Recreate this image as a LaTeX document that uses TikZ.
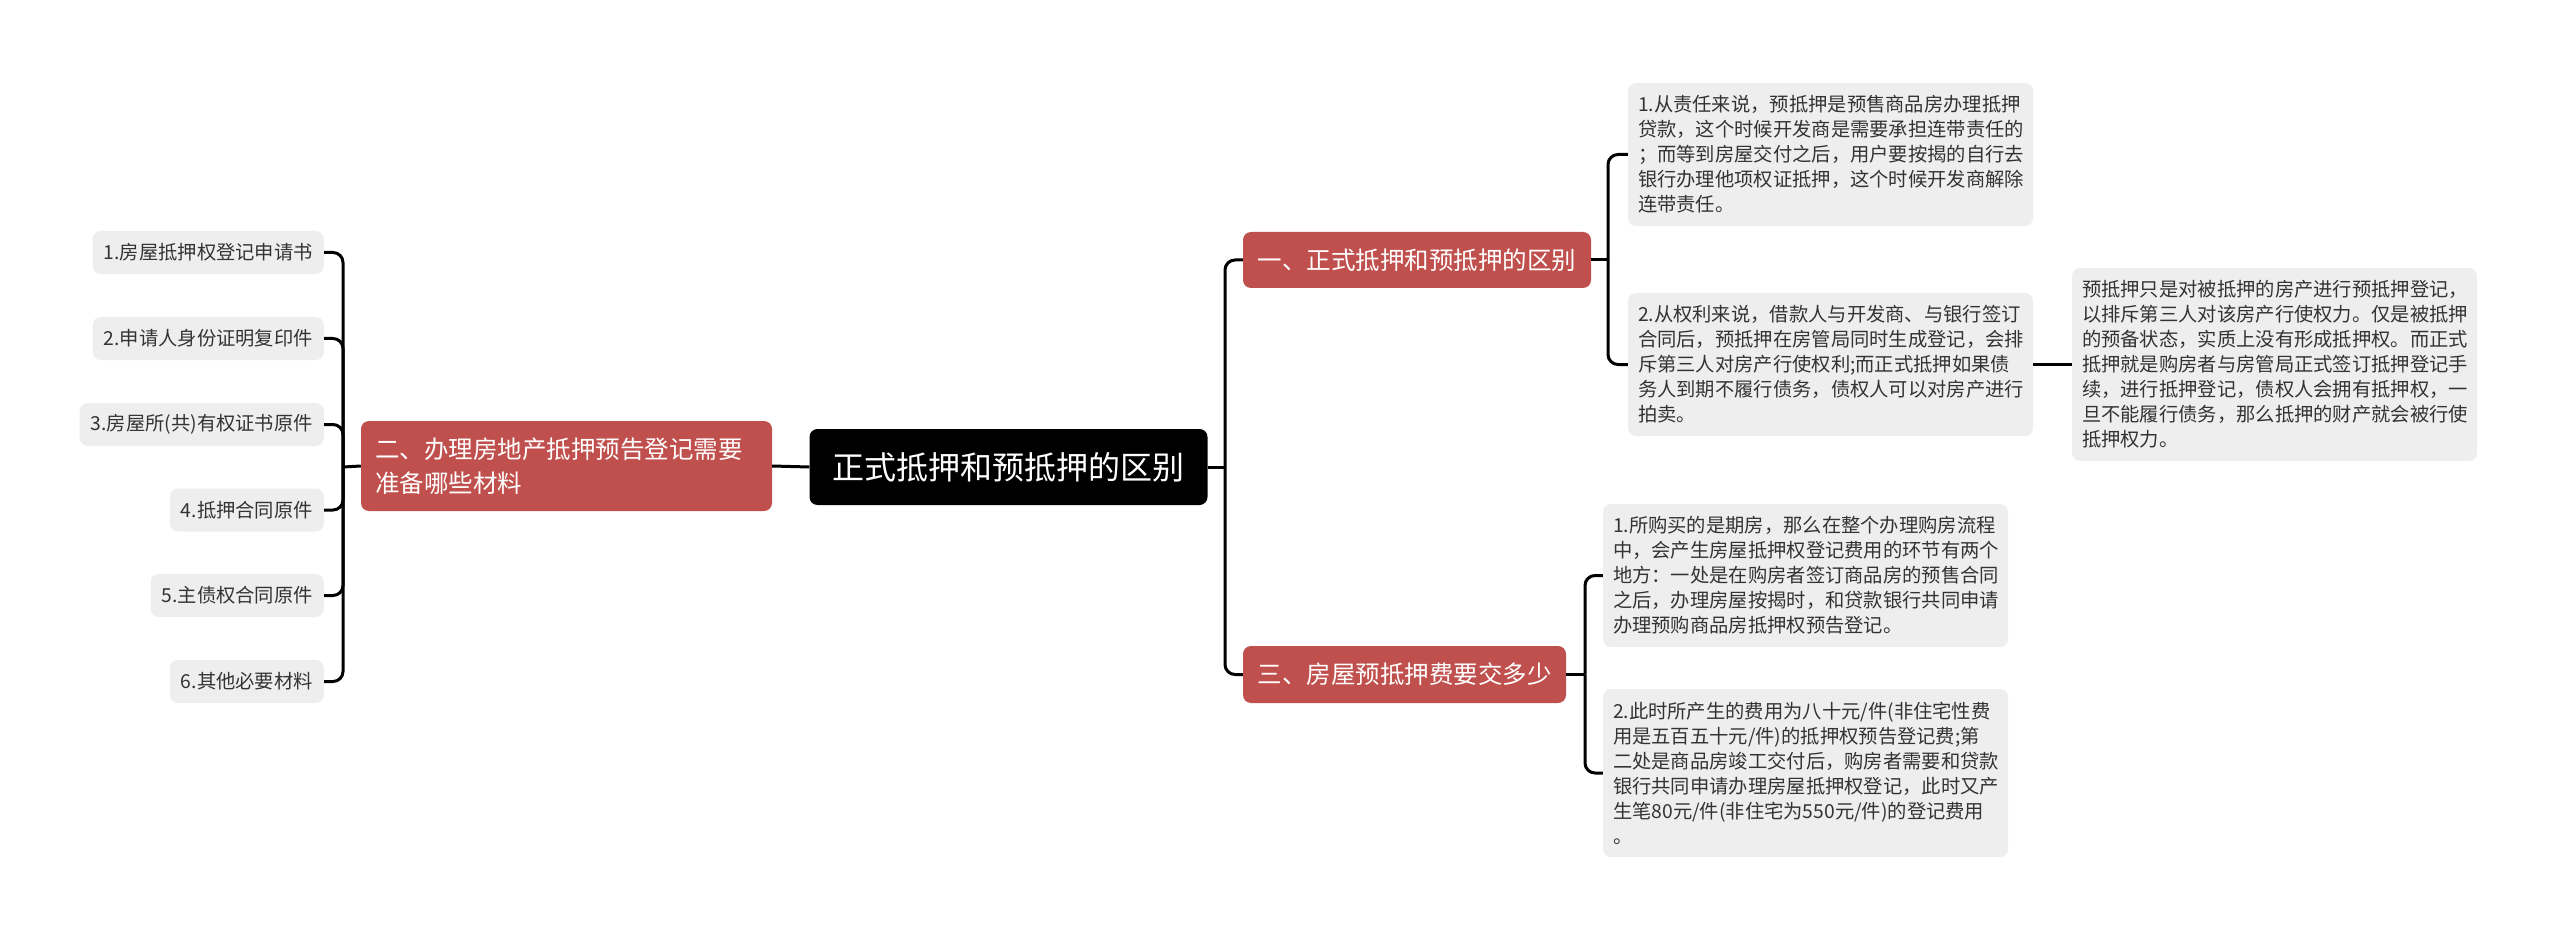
\documentclass[tikz,border=0pt]{standalone}
\usepackage{fontspec}
\newfontfamily\cjk{Noto Sans CJK SC}
\definecolor{branchred}{RGB}{192,80,77}
\definecolor{leafgray}{RGB}{238,238,238}
\definecolor{txt}{RGB}{51,51,51}
\tikzset{
 leaf/.style={fill=leafgray, rounded corners=8pt, inner xsep=10pt, inner ysep=0pt, align=left, text=txt, font=\cjk\fontsize{19.3}{25}\selectfont},
 wide/.style={text width=385pt, minimum width=405pt},
 smallleaf/.style={minimum height=43pt, inner xsep=11pt},
 branch/.style={fill=branchred, rounded corners=8pt, text=white, inner xsep=14pt, inner ysep=0pt, font=\cjk\fontsize{24.5}{34}\selectfont, align=left},
 rootbox/.style={fill=black, rounded corners=8pt, text=white, inner ysep=0pt, font=\cjk\fontsize{32}{40}\selectfont},
 conn/.style={draw=black, line width=3pt, rounded corners=10pt},
}
\begin{document}
\begin{tikzpicture}[x=1pt,y=-1pt]
\useasboundingbox (0,0) rectangle (2560,941);
% root
\node[rootbox, minimum width=398pt, minimum height=76pt] (root) at (1008.5,467) {正式抵押和预抵押的区别};
% branches
\node[branch, text width=383pt, minimum width=411pt, minimum height=90pt] (b2) at (566.5,466) {二、办理房地产抵押预告登记需要\\准备哪些材料};
\node[branch, minimum width=348pt, minimum height=56pt] (b1) at (1417,260) {一、正式抵押和预抵押的区别};
\node[branch, minimum width=323pt, minimum height=57pt] (b3) at (1404.5,674.5) {三、房屋预抵押费要交多少};
% left leaves
\node[leaf, smallleaf, anchor=east] (a1) at (324,252.5) {1.房屋抵押权登记申请书};
\node[leaf, smallleaf, anchor=east] (a2) at (324,338.5) {2.申请人身份证明复印件};
\node[leaf, smallleaf, anchor=east] (a3) at (324,424.5) {3.房屋所(共)有权证书原件};
\node[leaf, smallleaf, anchor=east] (a4) at (324,510) {4.抵押合同原件};
\node[leaf, smallleaf, anchor=east] (a5) at (324,595.5) {5.主债权合同原件};
\node[leaf, smallleaf, anchor=east] (a6) at (324,681.5) {6.其他必要材料};
% right leaves
\node[leaf, wide, minimum height=143pt] (l1a) at (1830.5,154.5) {1.从责任来说，预抵押是预售商品房办理抵押\\贷款，这个时候开发商是需要承担连带责任的\\；而等到房屋交付之后，用户要按揭的自行去\\银行办理他项权证抵押，这个时候开发商解除\\连带责任。};
\node[leaf, wide, minimum height=143pt] (l1b) at (1830.5,364.5) {2.从权利来说，借款人与开发商、与银行签订\\合同后，预抵押在房管局同时生成登记，会排\\斥第三人对房产行使权利;而正式抵押如果债\\务人到期不履行债务，债权人可以对房产进行\\拍卖。};
\node[leaf, wide, minimum height=193pt] (ex) at (2274.5,364.5) {预抵押只是对被抵押的房产进行预抵押登记，\\以排斥第三人对该房产行使权力。仅是被抵押\\的预备状态，实质上没有形成抵押权。而正式\\抵押就是购房者与房管局正式签订抵押登记手\\续，进行抵押登记，债权人会拥有抵押权，一\\旦不能履行债务，那么抵押的财产就会被行使\\抵押权力。};
\node[leaf, wide, minimum height=143pt] (l3a) at (1805.5,575.5) {1.所购买的是期房，那么在整个办理购房流程\\中，会产生房屋抵押权登记费用的环节有两个\\地方：一处是在购房者签订商品房的预售合同\\之后，办理房屋按揭时，和贷款银行共同申请\\办理预购商品房抵押权预告登记。};
\node[leaf, wide, minimum height=168pt] (l3b) at (1805.5,773) {2.此时所产生的费用为八十元/件(非住宅性费\\用是五百五十元/件)的抵押权预告登记费;第\\二处是商品房竣工交付后，购房者需要和贷款\\银行共同申请办理房屋抵押权登记，此时又产\\生笔80元/件(非住宅为550元/件)的登记费用\\。};
% spine coordinates
\coordinate (sL) at (343,467);
\coordinate (sR) at (1225,467);
\coordinate (s1) at (1608,260);
\coordinate (s3) at (1585,674.5);
% connectors
\draw[conn] (root.west) -- (b2.east);
\draw[conn] (b2.west) -- (sL);
\foreach \n in {a1,a2,a3,a4,a5,a6} \draw[conn] (sL) |- (\n.east);
\draw[conn] (root.east) -- (sR);
\draw[conn] (sR) |- (b1.west);
\draw[conn] (sR) |- (b3.west);
\draw[conn] (b1.east) -- (s1);
\draw[conn] (s1) |- (l1a.west);
\draw[conn] (s1) |- (l1b.west);
\draw[conn] (l1b.east) -- (ex.west);
\draw[conn] (b3.east) -- (s3);
\draw[conn] (s3) |- (l3a.west);
\draw[conn] (s3) |- (l3b.west);
\end{tikzpicture}
\end{document}
